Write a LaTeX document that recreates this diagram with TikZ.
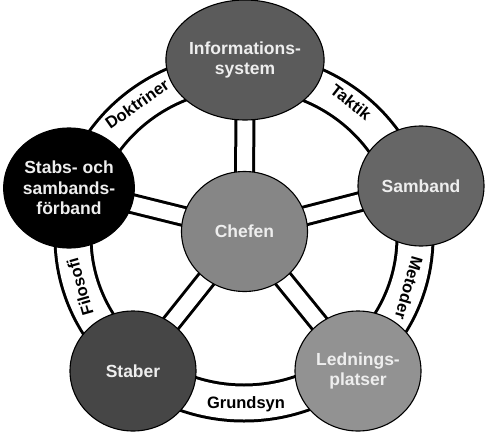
\documentclass[tikz,border=0pt]{standalone}
\usepackage{fontspec}
\setmainfont{Liberation Sans}
\usetikzlibrary{shapes.geometric,backgrounds}
\definecolor{txt}{HTML}{EEEEEE}
\definecolor{cinfo}{HTML}{5B5B5B}
\definecolor{csamb}{HTML}{666666}
\definecolor{cchef}{HTML}{868686}
\definecolor{cledn}{HTML}{929292}
\definecolor{cstaber}{HTML}{464646}
\definecolor{cstabs}{HTML}{000000}
\begin{document}
\begin{tikzpicture}[x=1pt,y=-1pt,
  bub/.style={ellipse, draw=black, line width=1.1pt, minimum width=126pt,
    minimum height=120pt, inner sep=0pt, align=center, text=txt,
    font=\fontsize{17.5}{20.5}\selectfont\bfseries},
  spoke/.style={draw=black, line width=3pt, double=white, double distance=15pt},
  ringband/.style={draw=black, line width=3pt, double=white, double distance=33pt},
  lbl/.style={font=\fontsize{16.5}{20}\selectfont\bfseries, text=black, inner sep=0pt}]
\useasboundingbox (0,0) rectangle (487,447);
% nodes
\node[bub, fill=cchef]   (chef)   at (244.5,231.5) {Chefen};
\node[bub, fill=cinfo]   (info)   at (245,60)      {Informations-\\system};
\node[bub, fill=csamb]   (samb)   at (421,186)     {Samband};
\node[bub, fill=cstabs]  (stabs)  at (69,188)      {Stabs- och\\sambands-\\förband};
\node[bub, fill=cstaber] (staber) at (133,371)     {Staber};
\node[bub, fill=cledn]   (ledn)   at (358,371)     {Lednings-\\platser};
\coordinate (ringc) at (244,237);
% ring and spokes behind
\begin{scope}[on background layer]
  \fill[white] (0,0) rectangle (487,447);
  \draw[ringband] (ringc) ellipse [x radius=171pt, y radius=166pt];
  \draw[spoke] (chef.center) -- (info.center);
  \draw[spoke] (chef.center) -- (samb.center);
  \draw[spoke] (chef.center) -- (stabs.center);
  \draw[spoke] (chef.center) -- (staber.center);
  \draw[spoke] (chef.center) -- (ledn.center);
\end{scope}
% ring labels
\node[lbl, rotate=35]   (ldok)  at (137,104) {Doktriner};
\node[lbl, rotate=-38]  (ltak)  at (351,102) {Taktik};
\node[lbl, rotate=-106] (lmet)  at (409,288) {Metoder};
\node[lbl, rotate=106]  (lfil)  at (80,287)  {Filosofi};
\node[lbl]              (lgru)  at (246,404) {Grundsyn};
\end{tikzpicture}
\end{document}
